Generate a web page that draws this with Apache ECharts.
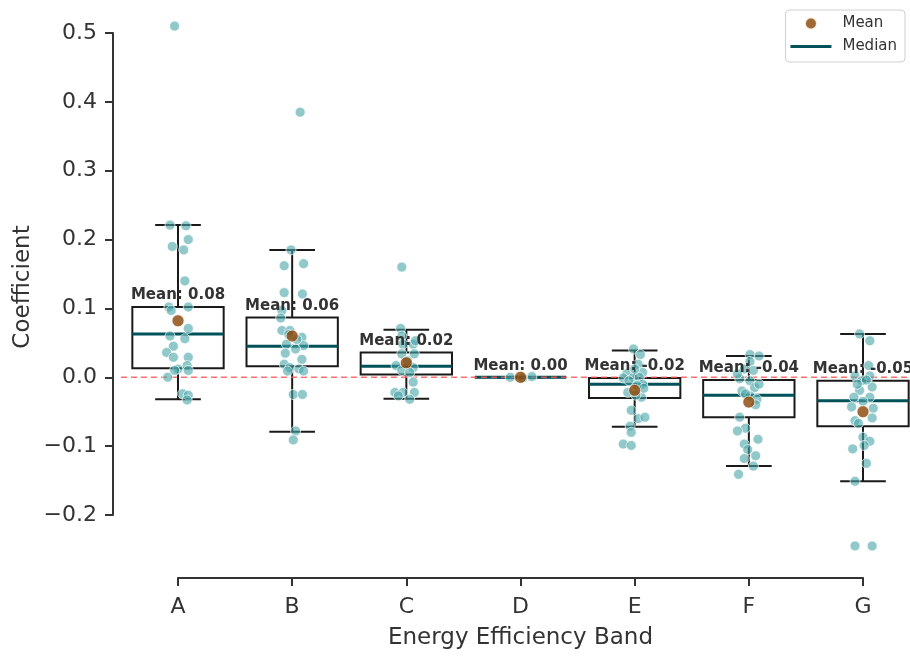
<!DOCTYPE html>
<html>
<head>
<meta charset="utf-8">
<script src="https://cdn.jsdelivr.net/npm/echarts@6/dist/echarts.min.js"></script>
<style>
  html, body { margin: 0; padding: 0; background: #fff; }
  #chart { width: 910px; height: 657px; }
</style>
</head>
<body>
<div id="chart"></div>
<script>
let bands = ['A', 'B', 'C', 'D', 'E', 'F', 'G'];

// box stats
let boxLow    = [-0.032, -0.079, -0.031, 0.000, -0.072, -0.129, -0.151];
let boxQ1     = [ 0.013,  0.016,  0.004, 0.000, -0.030, -0.058, -0.071];
let boxMedian = [ 0.063,  0.045,  0.016, 0.000, -0.010, -0.026, -0.034];
let boxQ3     = [ 0.102,  0.087,  0.036, 0.000, -0.001, -0.004, -0.005];
let boxHigh   = [ 0.221,  0.185,  0.069, 0.000,  0.039,  0.031,  0.063];
let bandMeans = [ 0.082,  0.060,  0.021, 0.000, -0.019, -0.036, -0.050];
let meanLabels = ['Mean: 0.08', 'Mean: 0.06', 'Mean: 0.02', 'Mean: 0.00',
  'Mean: -0.02', 'Mean: -0.04', 'Mean: -0.05'];

// individual coefficients per band, with their horizontal jitter (band units)
let pointValues = [
  [0.221, 0.220, 0.190, 0.200, 0.185, 0.140, 0.102, 0.102, 0.097, 0.071, 0.056, 0.060, 0.045,
   0.036, 0.029, 0.029, 0.017, 0.012, 0.010, 0.010, 0.000, -0.024, -0.026, -0.033, 0.510],
  [0.185, 0.162, 0.165, 0.123, 0.121, 0.097, 0.086, 0.068, 0.068, 0.058, 0.046, 0.041, 0.048,
   0.026, 0.019, 0.014, 0.012, 0.009, 0.009, -0.025, -0.025, -0.078, -0.091, 0.385, 0.062, 0.055, 0.035],
  [0.071, 0.060, 0.048, 0.048, 0.034, 0.034, 0.024, 0.017, 0.014, 0.010, 0.007, -0.007, -0.022,
   -0.022, -0.022, -0.027, -0.032, 0.160, 0.053],
  [0.000, 0.001, -0.001],
  [0.041, 0.033, 0.019, 0.007, 0.005, 0.000, 0.000, -0.001, -0.010, -0.029, -0.048, -0.060, -0.058,
   -0.071, -0.080, -0.097, -0.099, -0.005, -0.012, -0.016, -0.022, -0.026, 0.012],
  [0.033, 0.031, 0.023, 0.012, 0.010, -0.002, -0.005, -0.015, -0.020, -0.027, -0.032, -0.058, -0.074,
   -0.078, -0.090, -0.097, -0.105, -0.114, -0.118, -0.129, -0.141, 0.005, -0.010, -0.024, -0.040],
  [0.063, 0.053, 0.017, 0.002, -0.005, 0.002, -0.019, -0.014, -0.029, -0.029, -0.043, -0.045, -0.059,
   -0.063, -0.067, -0.087, -0.093, -0.099, -0.104, -0.125, -0.151, -0.245, -0.245, -0.035, -0.004, -0.010]
];
let pointJitter = [
  [-0.07, 0.07, -0.05, 0.09, 0.05, 0.06, -0.08, 0.09, -0.06, 0.09, 0.06, -0.07, -0.04,
   -0.10, -0.04, 0.09, 0.08, 0.00, -0.03, 0.09, -0.09, 0.04, 0.09, 0.08, -0.03],
  [-0.01, -0.07, 0.10, -0.07, 0.09, -0.09, -0.10, -0.09, -0.02, 0.085, 0.10, 0.03, -0.05,
   0.085, -0.07, -0.02, 0.06, 0.10, -0.04, 0.01, 0.09, 0.03, 0.01, 0.07, -0.03, 0.04, -0.06],
  [-0.05, -0.04, -0.03, 0.06, 0.07, -0.04, 0.01, -0.09, 0.06, -0.04, 0.03, 0.06, -0.10,
   -0.03, 0.07, -0.07, 0.03, -0.04, 0.08],
  [-0.09, 0.10, 0.02],
  [-0.01, 0.05, 0.03, 0.07, -0.07, -0.01, 0.04, -0.10, 0.07, 0.06, -0.03, 0.03, 0.09,
   -0.04, -0.03, -0.10, -0.03, -0.05, 0.02, 0.08, -0.06, 0.01, 0.00],
  [0.01, 0.09, 0.01, -0.04, 0.04, -0.08, 0.01, 0.05, -0.06, 0.01, 0.07, -0.08, -0.03,
   -0.10, 0.08, -0.04, -0.01, 0.06, -0.04, 0.04, -0.09, -0.10, 0.09, -0.03, 0.06],
  [-0.03, 0.06, 0.05, -0.07, -0.01, 0.06, -0.03, 0.08, -0.08, 0.06, -0.10, 0.09, 0.08,
   -0.07, -0.04, 0.00, 0.06, 0.01, -0.09, 0.03, -0.07, -0.07, 0.08, 0.00, 0.03, -0.05]
];

let font = 'DejaVu Sans';
let ink = '#333';
let medianColor = '#00525a';
let meanColor = '#8a4302';

let boxData = bands.map(function (b, i) {
  return [i, boxLow[i], boxQ1[i], boxMedian[i], boxQ3[i], boxHigh[i]];
});
let pointData = [];
for (let i = 0; i < bands.length; i++) {
  for (let j = 0; j < pointValues[i].length; j++) {
    pointData.push([i + pointJitter[i][j], pointValues[i][j]]);
  }
}
let meanData = bands.map(function (b, i) { return [i, bandMeans[i]]; });
let labelData = bands.map(function (b, i) { return [i, boxQ3[i]]; });

function renderBox(params, api) {
  let x = api.value(0);
  let low = api.coord([x, api.value(1)]);
  let q1 = api.coord([x, api.value(2)]);
  let med = api.coord([x, api.value(3)]);
  let q3 = api.coord([x, api.value(4)]);
  let high = api.coord([x, api.value(5)]);
  let halfBox = api.size([0.8, 0])[0] / 2;
  let halfCap = api.size([0.4, 0])[0] / 2;
  let cx = low[0];
  let line = { stroke: '#1a1a1a', lineWidth: 2 };
  return {
    type: 'group',
    children: [
      { type: 'line', shape: { x1: cx, y1: high[1], x2: cx, y2: q3[1] }, style: line },
      { type: 'line', shape: { x1: cx, y1: q1[1], x2: cx, y2: low[1] }, style: line },
      { type: 'line', shape: { x1: cx - halfCap, y1: high[1], x2: cx + halfCap, y2: high[1] }, style: line },
      { type: 'line', shape: { x1: cx - halfCap, y1: low[1], x2: cx + halfCap, y2: low[1] }, style: line },
      {
        type: 'rect',
        shape: { x: cx - halfBox, y: q3[1], width: halfBox * 2, height: q1[1] - q3[1] },
        style: { fill: '#fff', stroke: '#1a1a1a', lineWidth: 2 }
      },
      {
        type: 'line',
        shape: { x1: cx - halfBox, y1: med[1], x2: cx + halfBox, y2: med[1] },
        style: { stroke: medianColor, lineWidth: 3 }
      }
    ]
  };
}

function renderZero(params, api) {
  let a = api.coord([-0.5, 0]);
  let b = api.coord([6.5, 0]);
  return {
    type: 'line',
    shape: { x1: a[0], y1: a[1], x2: b[0], y2: b[1] },
    style: { stroke: 'rgba(255, 85, 85, 0.85)', lineWidth: 1.5, lineDash: [6, 4] }
  };
}

function renderLabel(params, api) {
  let p = api.coord([api.value(0), api.value(1)]);
  return {
    type: 'text',
    x: p[0],
    y: p[1] - 4,
    style: {
      text: meanLabels[params.dataIndex],
      font: 'bold 15px ' + font,
      fill: ink,
      align: 'center',
      verticalAlign: 'bottom'
    }
  };
}

function tickText(v) {
  if (Math.abs(v) < 1e-9) return '0.0';
  return v < 0 ? '\u2212' + Math.abs(v).toFixed(1) : v.toFixed(1);
}

let chart = echarts.init(document.getElementById('chart'));
let option = {
  animation: false,
  backgroundColor: '#fff',
  textStyle: { fontFamily: font },
  grid: { left: 178, right: 47, top: 33, bottom: 142, containLabel: false },
  legend: {
    orient: 'vertical',
    right: 5,
    top: 10,
    padding: [6, 8, 8, 5],
    itemGap: 8,
    itemWidth: 41,
    itemHeight: 12,
    borderColor: '#d0d0d0',
    borderWidth: 1,
    borderRadius: 4,
    backgroundColor: '#fff',
    textStyle: { fontSize: 15, color: ink, fontFamily: font, padding: [0, 0, 0, 6] },
    data: [
      { name: 'Mean', icon: 'circle', itemStyle: { color: meanColor } },
      { name: 'Median', icon: 'path://M0,0H41V3H0Z', itemStyle: { color: medianColor } }
    ]
  },
  xAxis: {
    type: 'value',
    min: 0,
    max: 6,
    interval: 1,
    offset: 63,
    axisLine: { onZero: false, lineStyle: { color: ink, width: 2 } },
    axisTick: { length: 8, lineStyle: { color: ink, width: 2 } },
    axisLabel: {
      formatter: function (v) { return bands[v]; },
      margin: 18, fontSize: 22, color: ink, fontFamily: font
    },
    splitLine: { show: false },
    name: 'Energy Efficiency Band',
    nameLocation: 'middle',
    nameGap: 49,
    nameTextStyle: { fontSize: 23, color: ink, fontFamily: font }
  },
  yAxis: {
    type: 'value',
    min: -0.2,
    max: 0.5,
    interval: 0.1,
    offset: 65,
    axisLine: { show: true, onZero: false, lineStyle: { color: ink, width: 2 } },
    axisTick: { show: true, length: 8, lineStyle: { color: ink, width: 2 } },
    axisLabel: { formatter: tickText, margin: 16, fontSize: 22, color: ink, fontFamily: font },
    splitLine: { show: false }
  },
  graphic: [{
    type: 'text',
    x: 23,
    y: 287,
    rotation: Math.PI / 2,
    style: {
      text: 'Coefficient', font: '23px ' + font, fill: ink,
      align: 'center', verticalAlign: 'middle'
    }
  }],
  series: [
    {
      name: 'Median',
      type: 'custom',
      renderItem: renderBox,
      data: boxData,
      encode: { x: 0, y: [1, 2, 3, 4, 5] },
      z: 2,
      silent: true
    },
    {
      name: 'zero',
      type: 'custom',
      renderItem: renderZero,
      data: [[0, 0]],
      z: 3,
      silent: true
    },
    {
      name: 'Coefficients',
      type: 'scatter',
      data: pointData,
      symbolSize: 10,
      clip: false,
      itemStyle: {
        color: 'rgba(72, 165, 168, 0.75)',
        borderColor: 'rgba(255, 255, 255, 0.85)',
        borderWidth: 1
      },
      z: 4,
      silent: true
    },
    {
      name: 'Mean',
      type: 'scatter',
      data: meanData,
      symbolSize: 12,
      clip: false,
      itemStyle: { color: meanColor, borderColor: '#fff', borderWidth: 0.8 },
      z: 5,
      silent: true
    },
    {
      name: 'labels',
      type: 'custom',
      renderItem: renderLabel,
      data: labelData,
      z: 6,
      silent: true
    }
  ]
};
chart.setOption(option);
</script>
</body>
</html>
